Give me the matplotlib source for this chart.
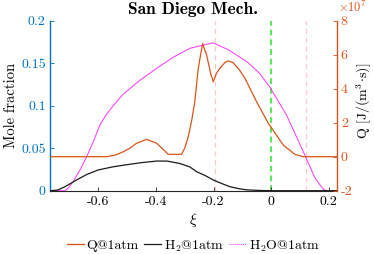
import matplotlib
matplotlib.use("Agg")
import matplotlib.pyplot as plt
from matplotlib.lines import Line2D

plt.rcParams['font.family'] = ['cmr10', 'DejaVu Serif']
plt.rcParams['mathtext.fontset'] = 'cm'
plt.rcParams['axes.unicode_minus'] = False
plt.rcParams['axes.formatter.use_mathtext'] = True

# ---- data ----
h2o_x = [-0.767, -0.715, -0.704, -0.687, -0.663, -0.64, -0.617, -0.594, -0.571, -0.55,
         -0.53, -0.513, -0.455, -0.397, -0.34, -0.282, -0.24, -0.201, -0.15, -0.085,
         -0.04, -0.005, 0.053, 0.111, 0.152, 0.18, 0.192]
h2o_y = [0, 0, 0.0028, 0.0106, 0.0244, 0.04, 0.0577, 0.0773, 0.090, 0.099,
         0.107, 0.1136, 0.130, 0.144, 0.157, 0.1675, 0.171, 0.174, 0.166, 0.152,
         0.138, 0.122, 0.089, 0.046, 0.0146, 0.002, 0]

h2_x = [-0.767, -0.74, -0.715, -0.675, -0.64, -0.6, -0.55, -0.513, -0.45, -0.397,
        -0.36, -0.317, -0.282, -0.259, -0.23, -0.201, -0.17, -0.143, -0.11, -0.085,
        -0.04, 0.0, 0.227]
h2_y = [0, 0.0008, 0.0047, 0.0126, 0.019, 0.0244, 0.028, 0.030, 0.033, 0.0349,
        0.0348, 0.032, 0.028, 0.0224, 0.018, 0.0126, 0.0082, 0.0047, 0.0022, 0.001,
        0.0003, 0, 0]

q_x = [-0.767, -0.57, -0.54, -0.513, -0.49, -0.467, -0.432, -0.397, -0.357, -0.311,
       -0.30, -0.288, -0.275, -0.265, -0.253, -0.238, -0.224, -0.21, -0.201, -0.19,
       -0.178, -0.16, -0.149, -0.132, -0.11, -0.091, -0.051, -0.01, 0.042, 0.082,
       0.111, 0.227]
q_y = [0, 0, 0.1, 0.29, 0.5, 0.79, 1.02, 0.79, 0.14, 0.14,
       0.5, 1.15, 2.2, 3.24, 5.2, 6.65, 5.98, 4.9, 4.41, 4.9,
       5.2, 5.55, 5.63, 5.53, 5.1, 4.61, 3.24, 1.96, 0.68, 0.14,
       0, 0]

vlines_pink = [-0.195, 0.119]
vline_green = 0.0

xticks = [-0.6, -0.4, -0.2, 0, 0.2]
xticklabels = ['-0.6', '-0.4', '-0.2', '0', '0.2']
lticks = [0, 0.05, 0.1, 0.15, 0.2]
lticklabels = ['0', '0.05', '0.1', '0.15', '0.2']
rticks = [-2, 0, 2, 4, 6, 8]
rticklabels = ['-2', '0', '2', '4', '6', '8']

BLUE = '#0072BD'
ORANGE = '#D95319'
MAG = '#FF33FF'

fig = plt.figure(figsize=(3.74, 2.54), dpi=100)
ax = fig.add_axes([50/374, 1-190.7/254, (336.7-50)/374, (190.7-20.7)/254])
ax2 = ax.twinx()

ax.set_xlim(-0.767, 0.227)
ax.set_ylim(0, 0.2)
ax2.set_ylim(-2, 8)

for xv in vlines_pink:
    ax.axvline(xv, color='#FFC8C8', lw=0.9, ls=(0, (4, 3)), zorder=1)
ax.axvline(vline_green, color='#55E855', lw=1.4, ls=(0, (3, 2)), zorder=1)

ax.plot(h2o_x, h2o_y, color=MAG, lw=0.7, zorder=3)
ax.plot(h2_x, h2_y, color='#1A1A1A', lw=0.9, zorder=3)
ax2.plot(q_x, q_y, color=ORANGE, lw=0.9, zorder=3)

ax.set_xticks(xticks)
ax.set_xticklabels(xticklabels)
ax.set_yticks(lticks)
ax.set_yticklabels(lticklabels)
ax2.set_yticks(rticks)
ax2.set_yticklabels(rticklabels)

ax.tick_params(axis='x', direction='in', length=3, width=0.6, labelsize=10, colors='#262626', labelcolor='black', pad=4)
ax.tick_params(axis='y', direction='in', length=3, width=0.6, labelsize=10, colors=BLUE, pad=3)
ax2.tick_params(axis='y', direction='in', length=3, width=0.6, labelsize=10, colors=ORANGE, pad=3)

for a in (ax, ax2):
    a.spines['top'].set_visible(False)
ax.spines['left'].set_color(BLUE)
ax.spines['left'].set_linewidth(1.0)
ax.spines['right'].set_visible(False)
ax2.spines['left'].set_visible(False)
ax2.spines['bottom'].set_visible(False)
ax2.spines['right'].set_color(ORANGE)
ax2.spines['right'].set_linewidth(1.0)
ax.spines['bottom'].set_color('#262626')
ax.spines['bottom'].set_linewidth(0.8)

ax.set_ylabel('Mole fraction', fontsize=10.5, color='black', labelpad=2)
fig.text(364/374, 1-101/254, r'Q $[\mathrm{J/(m^3\!\cdot\! s)}]$', fontsize=10,
         color='black', rotation=90, ha='center', va='center')
ax.set_xlabel(r'$\xi$', fontsize=11, labelpad=2)
ax.set_title('San Diego Mech.', fontfamily='cmb10', fontsize=12.5, pad=5)

ax2.annotate(r'$\times10^{7}$', xy=(1.0, 1.0), xycoords='axes fraction',
             xytext=(1, 4), textcoords='offset points', color=ORANGE,
             fontsize=9, ha='left', va='bottom')

handles = [Line2D([], [], color=ORANGE, lw=0.9),
           Line2D([], [], color='#1A1A1A', lw=0.9),
           Line2D([], [], color=MAG, lw=0.7, ls=(0, (1, 1)))]
labels = ['Q@1atm', r'H$_2$@1atm', r'H$_2$O@1atm']
fig.legend(handles, labels, loc='center', bbox_to_anchor=(193.4/374, 1-246/254),
           ncol=3, frameon=False, fontsize=10, handlelength=1.2, handletextpad=0.2,
           columnspacing=0.4, borderpad=0)

fig.savefig('out.png', dpi=100)
